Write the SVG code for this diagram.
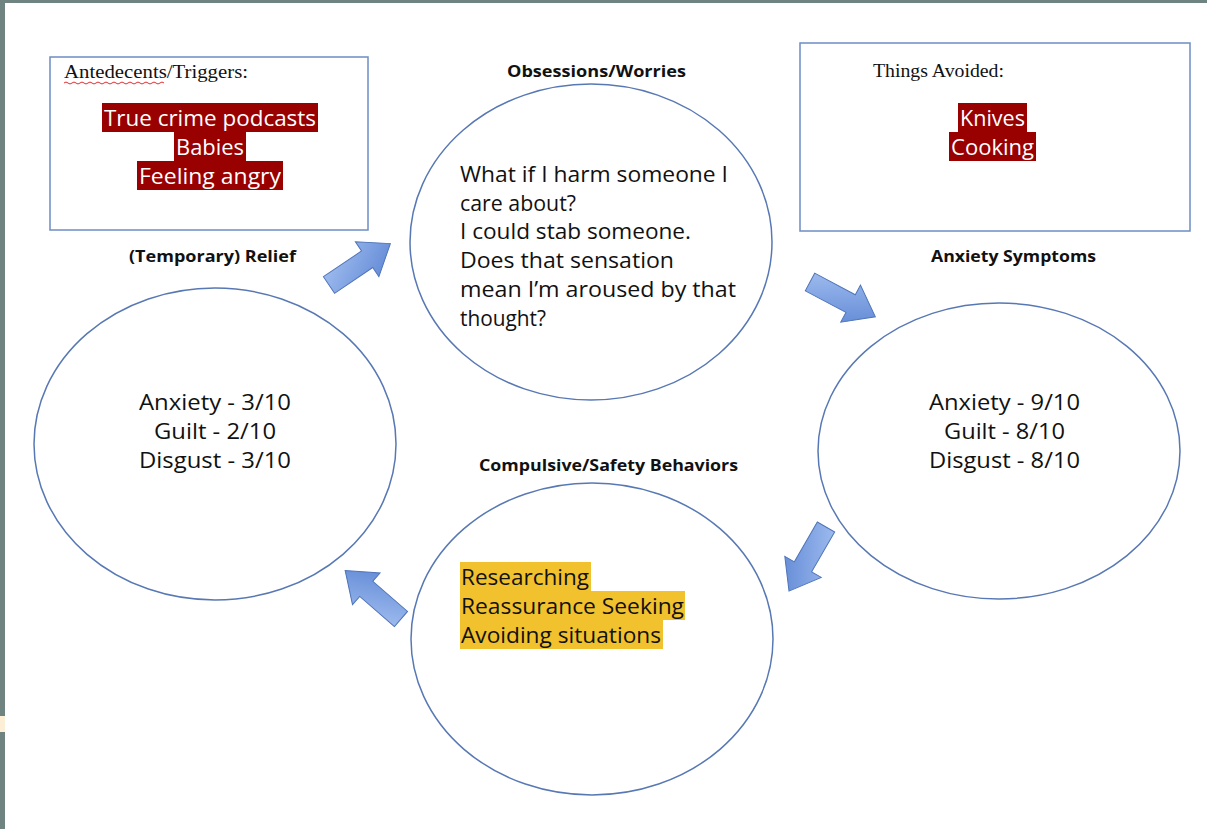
<svg xmlns="http://www.w3.org/2000/svg" width="1207" height="829" viewBox="0 0 1207 829">
<defs>
<style>
.frame{fill:#6f8481}
.box{fill:#fff;stroke:#6d8dc4;stroke-width:1.5}
.ell{fill:#fff;stroke:#5878b4;stroke-width:1.5}
.serif{font-family:"Liberation Serif","DejaVu Serif",serif;font-size:18px;fill:#111}
.head{font-family:"Open Sans","Noto Sans",sans-serif;font-weight:bold;font-size:16px;fill:#111;text-anchor:middle}
.body{font-family:"Open Sans","Noto Sans",sans-serif;font-size:22px;fill:#111}
.mid{text-anchor:middle}
.hlr{fill:#990000}
.hly{fill:#f2c12e}
.wt{font-family:"Open Sans","Noto Sans",sans-serif;font-size:22px;fill:#fff;text-anchor:middle}
.arrow{fill:url(#ag);stroke:#4f74b8;stroke-width:1}
</style>
<linearGradient id="ag" x1="0" y1="0" x2="1" y2="1">
<stop offset="0" stop-color="#a6c2f2"/>
<stop offset="1" stop-color="#5a83d2"/>
</linearGradient>
<path id="blk" d="M0,-10 L46,-10 L46,-21 L74,0 L46,21 L46,10 L0,10 Z"/>
</defs>
<rect width="1207" height="829" fill="#fff"/>
<rect class="frame" x="0" y="0" width="1207" height="3"/>
<rect class="frame" x="0" y="0" width="5" height="829"/>
<rect x="0" y="716" width="5" height="16" fill="#fdeed6"/>

<g id="antecedents">
<rect class="box" x="50" y="57" width="318" height="173"/>
<text class="serif" x="64" y="78" textLength="184" lengthAdjust="spacingAndGlyphs">Antedecents/Triggers:</text>
<path d="M64,83 q2,-2 4,0 t4,0 t4,0 t4,0 t4,0 t4,0 t4,0 t4,0 t4,0 t4,0 t4,0 t4,0 t4,0 t4,0 t4,0 t4,0 t4,0 t4,0 t4,0 t4,0 t4,0 t4,0 t4,0 t4,0 t4,0" fill="none" stroke="#e03030" stroke-width="1"/>
<rect class="hlr" x="102" y="103" width="216" height="29"/>
<rect class="hlr" x="174" y="132" width="72" height="29"/>
<rect class="hlr" x="137" y="161" width="146" height="29"/>
<text class="wt" x="210" y="126" textLength="212" lengthAdjust="spacingAndGlyphs">True crime podcasts</text>
<text class="wt" x="210" y="155" textLength="68" lengthAdjust="spacingAndGlyphs">Babies</text>
<text class="wt" x="210" y="184" textLength="142" lengthAdjust="spacingAndGlyphs">Feeling angry</text>
</g>

<g id="avoided">
<rect class="box" x="800" y="43" width="390" height="188"/>
<text class="serif" x="873" y="77" textLength="131" lengthAdjust="spacingAndGlyphs">Things Avoided:</text>
<rect class="hlr" x="958" y="103" width="69" height="29"/>
<rect class="hlr" x="949" y="132" width="87" height="29"/>
<text class="wt" x="992.5" y="126" textLength="65" lengthAdjust="spacingAndGlyphs">Knives</text>
<text class="wt" x="992.5" y="155" textLength="83" lengthAdjust="spacingAndGlyphs">Cooking</text>
</g>

<g id="obsessions">
<text class="head" x="596.5" y="77" textLength="179" lengthAdjust="spacingAndGlyphs">Obsessions/Worries</text>
<ellipse class="ell" cx="591" cy="242" rx="181" ry="158"/>
<text class="body" x="460" y="182" textLength="268" lengthAdjust="spacingAndGlyphs">What if I harm someone I</text>
<text class="body" x="460" y="211" textLength="116" lengthAdjust="spacingAndGlyphs">care about?</text>
<text class="body" x="460" y="239" textLength="231" lengthAdjust="spacingAndGlyphs">I could stab someone.</text>
<text class="body" x="460" y="268" textLength="214" lengthAdjust="spacingAndGlyphs">Does that sensation</text>
<text class="body" x="460" y="297" textLength="276" lengthAdjust="spacingAndGlyphs">mean I’m aroused by that</text>
<text class="body" x="460" y="326" textLength="86" lengthAdjust="spacingAndGlyphs">thought?</text>
</g>

<g id="relief">
<text class="head" x="212.5" y="262" textLength="167" lengthAdjust="spacingAndGlyphs">(Temporary) Relief</text>
<ellipse class="ell" cx="215" cy="444" rx="181" ry="156"/>
<text class="body mid" x="215" y="410" textLength="152" lengthAdjust="spacingAndGlyphs">Anxiety - 3/10</text>
<text class="body mid" x="215" y="439" textLength="122" lengthAdjust="spacingAndGlyphs">Guilt - 2/10</text>
<text class="body mid" x="215" y="468" textLength="152" lengthAdjust="spacingAndGlyphs">Disgust - 3/10</text>
</g>

<g id="symptoms">
<text class="head" x="1013.5" y="262" textLength="165" lengthAdjust="spacingAndGlyphs">Anxiety Symptoms</text>
<ellipse class="ell" cx="999" cy="451" rx="181" ry="148"/>
<text class="body mid" x="1004.5" y="410" textLength="151" lengthAdjust="spacingAndGlyphs">Anxiety - 9/10</text>
<text class="body mid" x="1004.5" y="439" textLength="121" lengthAdjust="spacingAndGlyphs">Guilt - 8/10</text>
<text class="body mid" x="1004.5" y="468" textLength="151" lengthAdjust="spacingAndGlyphs">Disgust - 8/10</text>
</g>

<g id="behaviors">
<text class="head" x="608.5" y="471" textLength="259" lengthAdjust="spacingAndGlyphs">Compulsive/Safety Behaviors</text>
<ellipse class="ell" cx="592" cy="639" rx="181" ry="156"/>
<rect class="hly" x="460" y="562" width="131" height="29"/>
<rect class="hly" x="460" y="591" width="225" height="29"/>
<rect class="hly" x="460" y="620" width="203" height="29"/>
<text class="body" x="461" y="585" textLength="128" lengthAdjust="spacingAndGlyphs">Researching</text>
<text class="body" x="461" y="614" textLength="223" lengthAdjust="spacingAndGlyphs">Reassurance Seeking</text>
<text class="body" x="461" y="643" textLength="200" lengthAdjust="spacingAndGlyphs">Avoiding situations</text>
</g>

<g id="connectors">
<use href="#blk" class="arrow" transform="translate(329,285) rotate(-34)"/>
<use href="#blk" class="arrow" transform="translate(810,282) rotate(28)"/>
<use href="#blk" class="arrow" transform="translate(826,527) rotate(120)"/>
<use href="#blk" class="arrow" transform="translate(401,619) rotate(-139)"/>
</g>
</svg>
